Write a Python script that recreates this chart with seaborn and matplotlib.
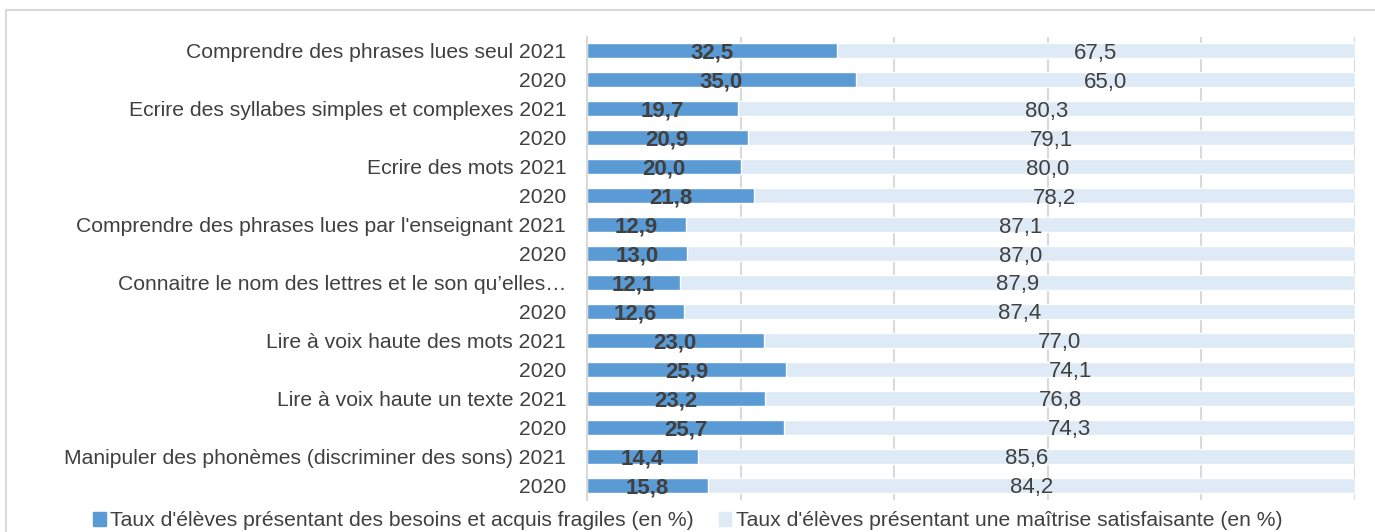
import matplotlib
matplotlib.use('Agg')
import matplotlib.pyplot as plt
from matplotlib.patches import Patch, Rectangle
import seaborn as sns
import pandas as pd

# libellés des lignes (de haut en bas)
etiquettes = [
    "Comprendre des phrases lues seul 2021", "2020",
    "Ecrire des syllabes simples et complexes 2021", "2020",
    "Ecrire des mots 2021", "2020",
    "Comprendre des phrases lues par l'enseignant 2021", "2020",
    "Connaitre le nom des lettres et le son qu\u2019elles\u2026", "2020",
    "Lire à voix haute des mots 2021", "2020",
    "Lire à voix haute un texte 2021", "2020",
    "Manipuler des phonèmes (discriminer des sons) 2021", "2020",
]
fragiles = [32.5, 35.0, 19.7, 20.9, 20.0, 21.8, 12.9, 13.0,
            12.1, 12.6, 23.0, 25.9, 23.2, 25.7, 14.4, 15.8]
satisfaisants = [67.5, 65.0, 80.3, 79.1, 80.0, 78.2, 87.1, 87.0,
                 87.9, 87.4, 77.0, 74.1, 76.8, 74.3, 85.6, 84.2]

serie1 = "Taux d'élèves présentant des besoins et acquis fragiles (en %)"
serie2 = "Taux d'élèves présentant une maîtrise satisfaisante (en %)"

bleu = '#5B9BD5'
bleu_clair = '#DEEAF6'
gris_txt = '#404040'
taille = 15.2
taille_val = 16

sns.set_theme(style='white')
plt.rcParams['font.family'] = ['Liberation Sans', 'DejaVu Sans']

df = pd.DataFrame({
    'ligne': [str(i) for i in range(len(etiquettes))],
    'fragile': fragiles,
    'satisf': satisfaisants,
})
df['total'] = df['fragile'] + df['satisf']

fig = plt.figure(figsize=(13.75, 5.32), dpi=100)
ax = fig.add_axes([587 / 1375, 1 - 499.5 / 532, (1355 - 587) / 1375, (499.5 - 36.5) / 532])

# barres empilées : total clair puis partie bleue par-dessus
sns.barplot(data=df, x='total', y='ligne', orient='h', color=bleu_clair,
            saturation=1, width=0.52, ax=ax, errorbar=None)
sns.barplot(data=df, x='fragile', y='ligne', orient='h', color=bleu,
            saturation=1, width=0.52, ax=ax, errorbar=None)

# étiquettes de valeurs
for i, row in df.iterrows():
    ax.text(row['fragile'] / 2, i, f"{row['fragile']:.1f}".replace('.', ','),
            ha='center', va='center_baseline', fontsize=taille_val, fontweight='bold', color=gris_txt)
    ax.text(row['fragile'] + row['satisf'] / 2, i, f"{row['satisf']:.1f}".replace('.', ','),
            ha='center', va='center_baseline', fontsize=taille_val, color=gris_txt)

ax.set_xlim(0, 100)
ax.set_xticks([0, 20, 40, 60, 80, 100])
ax.set_xticklabels([])
ax.xaxis.grid(True, color='#d9d9d9', linewidth=1.5)
ax.set_axisbelow(True)
ax.tick_params(axis='x', length=0)
ax.tick_params(axis='y', length=0, pad=15, labelsize=taille, labelcolor=gris_txt)
ax.set_yticks(range(len(etiquettes)))
ax.set_yticklabels(etiquettes)
ax.set_xlabel('')
ax.set_ylabel('')
for s in ['top', 'right', 'bottom']:
    ax.spines[s].set_visible(False)
ax.spines['left'].set_color('#d9d9d9')
ax.spines['left'].set_linewidth(1.5)

handles = [Patch(color=bleu, label=serie1), Patch(color=bleu_clair, label=serie2)]
fig.legend(handles=handles, loc='center', bbox_to_anchor=(0.5, 1 - 521 / 532), ncol=2,
           frameon=False, fontsize=taille, handlelength=0.6, handleheight=0.6,
           handletextpad=0.2, columnspacing=1.2, labelcolor=gris_txt)

# cadre du graphique
fig.patches.append(Rectangle((6 / 1375, -0.02), 1.0, 1 - 10 / 532 + 0.02,
                             transform=fig.transFigure, fill=False,
                             edgecolor='#d9d9d9', linewidth=1.5))

fig.savefig('out.png', dpi=100)
